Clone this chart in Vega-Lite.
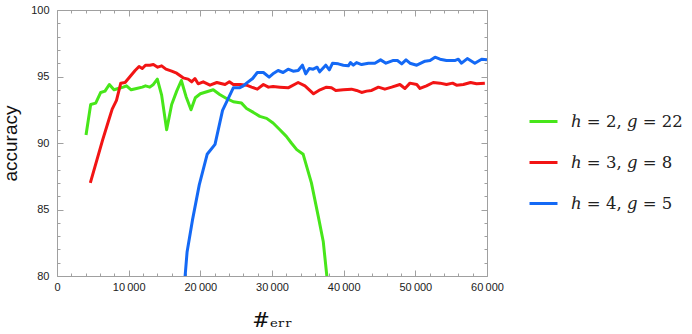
{
  "$schema": "https://vega.github.io/schema/vega-lite/v6.json",
  "width": 430,
  "height": 266,
  "autosize": {"type": "none"},
  "padding": {"left": 57, "top": 10, "right": 205, "bottom": 58},
  "background": "white",
  "config": {
    "view": {"stroke": "#a0a0a0", "strokeWidth": 1},
    "axis": {"grid": false, "domain": false, "tickColor": "#a0a0a0", "tickWidth": 1, "labelFont": "Liberation Sans", "labelFontSize": 11, "labelColor": "#222222", "labelOverlap": false, "labelFlush": false}
  },
  "data": {"values": [
    {"series": "ℎ = 2, 𝑔 = 22", "err": 4050, "accuracy": 90.6},
    {"series": "ℎ = 2, 𝑔 = 22", "err": 4700, "accuracy": 92.9},
    {"series": "ℎ = 2, 𝑔 = 22", "err": 5400, "accuracy": 93.0},
    {"series": "ℎ = 2, 𝑔 = 22", "err": 6100, "accuracy": 93.8},
    {"series": "ℎ = 2, 𝑔 = 22", "err": 6700, "accuracy": 93.9},
    {"series": "ℎ = 2, 𝑔 = 22", "err": 7300, "accuracy": 94.4},
    {"series": "ℎ = 2, 𝑔 = 22", "err": 7950, "accuracy": 94.0},
    {"series": "ℎ = 2, 𝑔 = 22", "err": 8550, "accuracy": 94.1},
    {"series": "ℎ = 2, 𝑔 = 22", "err": 9250, "accuracy": 94.2},
    {"series": "ℎ = 2, 𝑔 = 22", "err": 9700, "accuracy": 94.3},
    {"series": "ℎ = 2, 𝑔 = 22", "err": 10350, "accuracy": 94.0},
    {"series": "ℎ = 2, 𝑔 = 22", "err": 11100, "accuracy": 94.1},
    {"series": "ℎ = 2, 𝑔 = 22", "err": 11900, "accuracy": 94.2},
    {"series": "ℎ = 2, 𝑔 = 22", "err": 12350, "accuracy": 94.3},
    {"series": "ℎ = 2, 𝑔 = 22", "err": 12950, "accuracy": 94.2},
    {"series": "ℎ = 2, 𝑔 = 22", "err": 13450, "accuracy": 94.4},
    {"series": "ℎ = 2, 𝑔 = 22", "err": 14000, "accuracy": 94.8},
    {"series": "ℎ = 2, 𝑔 = 22", "err": 14600, "accuracy": 93.6},
    {"series": "ℎ = 2, 𝑔 = 22", "err": 15300, "accuracy": 91.0},
    {"series": "ℎ = 2, 𝑔 = 22", "err": 16000, "accuracy": 92.9},
    {"series": "ℎ = 2, 𝑔 = 22", "err": 16700, "accuracy": 93.9},
    {"series": "ℎ = 2, 𝑔 = 22", "err": 17350, "accuracy": 94.7},
    {"series": "ℎ = 2, 𝑔 = 22", "err": 18000, "accuracy": 93.5},
    {"series": "ℎ = 2, 𝑔 = 22", "err": 18700, "accuracy": 92.5},
    {"series": "ℎ = 2, 𝑔 = 22", "err": 19300, "accuracy": 93.4},
    {"series": "ℎ = 2, 𝑔 = 22", "err": 20000, "accuracy": 93.7},
    {"series": "ℎ = 2, 𝑔 = 22", "err": 20900, "accuracy": 93.85},
    {"series": "ℎ = 2, 𝑔 = 22", "err": 21800, "accuracy": 94.0},
    {"series": "ℎ = 2, 𝑔 = 22", "err": 22700, "accuracy": 93.65},
    {"series": "ℎ = 2, 𝑔 = 22", "err": 23650, "accuracy": 93.35},
    {"series": "ℎ = 2, 𝑔 = 22", "err": 24600, "accuracy": 93.1},
    {"series": "ℎ = 2, 𝑔 = 22", "err": 25750, "accuracy": 93.0},
    {"series": "ℎ = 2, 𝑔 = 22", "err": 26450, "accuracy": 92.6},
    {"series": "ℎ = 2, 𝑔 = 22", "err": 27400, "accuracy": 92.3},
    {"series": "ℎ = 2, 𝑔 = 22", "err": 28300, "accuracy": 92.0},
    {"series": "ℎ = 2, 𝑔 = 22", "err": 29250, "accuracy": 91.85},
    {"series": "ℎ = 2, 𝑔 = 22", "err": 30150, "accuracy": 91.5},
    {"series": "ℎ = 2, 𝑔 = 22", "err": 31100, "accuracy": 91.0},
    {"series": "ℎ = 2, 𝑔 = 22", "err": 32000, "accuracy": 90.5},
    {"series": "ℎ = 2, 𝑔 = 22", "err": 32700, "accuracy": 90.0},
    {"series": "ℎ = 2, 𝑔 = 22", "err": 33450, "accuracy": 89.5},
    {"series": "ℎ = 2, 𝑔 = 22", "err": 34350, "accuracy": 89.15},
    {"series": "ℎ = 2, 𝑔 = 22", "err": 35500, "accuracy": 87.0},
    {"series": "ℎ = 2, 𝑔 = 22", "err": 36450, "accuracy": 84.5},
    {"series": "ℎ = 2, 𝑔 = 22", "err": 37150, "accuracy": 82.6},
    {"series": "ℎ = 2, 𝑔 = 22", "err": 37650, "accuracy": 80.0},
    {"series": "ℎ = 2, 𝑔 = 22", "err": 37900, "accuracy": 78.5},
    {"series": "ℎ = 3, 𝑔 = 8", "err": 4650, "accuracy": 87.0},
    {"series": "ℎ = 3, 𝑔 = 8", "err": 6350, "accuracy": 90.2},
    {"series": "ℎ = 3, 𝑔 = 8", "err": 7150, "accuracy": 91.6},
    {"series": "ℎ = 3, 𝑔 = 8", "err": 7700, "accuracy": 92.55},
    {"series": "ℎ = 3, 𝑔 = 8", "err": 8300, "accuracy": 93.2},
    {"series": "ℎ = 3, 𝑔 = 8", "err": 8900, "accuracy": 94.5},
    {"series": "ℎ = 3, 𝑔 = 8", "err": 9500, "accuracy": 94.55},
    {"series": "ℎ = 3, 𝑔 = 8", "err": 10200, "accuracy": 95.0},
    {"series": "ℎ = 3, 𝑔 = 8", "err": 10900, "accuracy": 95.45},
    {"series": "ℎ = 3, 𝑔 = 8", "err": 11450, "accuracy": 95.75},
    {"series": "ℎ = 3, 𝑔 = 8", "err": 11900, "accuracy": 95.6},
    {"series": "ℎ = 3, 𝑔 = 8", "err": 12350, "accuracy": 95.85},
    {"series": "ℎ = 3, 𝑔 = 8", "err": 12950, "accuracy": 95.85},
    {"series": "ℎ = 3, 𝑔 = 8", "err": 13450, "accuracy": 95.9},
    {"series": "ℎ = 3, 𝑔 = 8", "err": 14050, "accuracy": 95.7},
    {"series": "ℎ = 3, 𝑔 = 8", "err": 14600, "accuracy": 95.8},
    {"series": "ℎ = 3, 𝑔 = 8", "err": 15200, "accuracy": 95.55},
    {"series": "ℎ = 3, 𝑔 = 8", "err": 16000, "accuracy": 95.4},
    {"series": "ℎ = 3, 𝑔 = 8", "err": 16700, "accuracy": 95.25},
    {"series": "ℎ = 3, 𝑔 = 8", "err": 17600, "accuracy": 94.9},
    {"series": "ℎ = 3, 𝑔 = 8", "err": 18300, "accuracy": 94.8},
    {"series": "ℎ = 3, 𝑔 = 8", "err": 18800, "accuracy": 94.6},
    {"series": "ℎ = 3, 𝑔 = 8", "err": 19250, "accuracy": 94.85},
    {"series": "ℎ = 3, 𝑔 = 8", "err": 19700, "accuracy": 94.45},
    {"series": "ℎ = 3, 𝑔 = 8", "err": 20400, "accuracy": 94.6},
    {"series": "ℎ = 3, 𝑔 = 8", "err": 21350, "accuracy": 94.35},
    {"series": "ℎ = 3, 𝑔 = 8", "err": 22300, "accuracy": 94.55},
    {"series": "ℎ = 3, 𝑔 = 8", "err": 23450, "accuracy": 94.4},
    {"series": "ℎ = 3, 𝑔 = 8", "err": 24050, "accuracy": 94.6},
    {"series": "ℎ = 3, 𝑔 = 8", "err": 24600, "accuracy": 94.4},
    {"series": "ℎ = 3, 𝑔 = 8", "err": 25550, "accuracy": 94.4},
    {"series": "ℎ = 3, 𝑔 = 8", "err": 26450, "accuracy": 94.35},
    {"series": "ℎ = 3, 𝑔 = 8", "err": 27150, "accuracy": 94.2},
    {"series": "ℎ = 3, 𝑔 = 8", "err": 27950, "accuracy": 94.05},
    {"series": "ℎ = 3, 𝑔 = 8", "err": 28800, "accuracy": 94.4},
    {"series": "ℎ = 3, 𝑔 = 8", "err": 29500, "accuracy": 94.2},
    {"series": "ℎ = 3, 𝑔 = 8", "err": 30150, "accuracy": 94.25},
    {"series": "ℎ = 3, 𝑔 = 8", "err": 31100, "accuracy": 94.2},
    {"series": "ℎ = 3, 𝑔 = 8", "err": 32250, "accuracy": 94.15},
    {"series": "ℎ = 3, 𝑔 = 8", "err": 33650, "accuracy": 94.55},
    {"series": "ℎ = 3, 𝑔 = 8", "err": 34600, "accuracy": 94.3},
    {"series": "ℎ = 3, 𝑔 = 8", "err": 35800, "accuracy": 93.7},
    {"series": "ℎ = 3, 𝑔 = 8", "err": 36700, "accuracy": 94.0},
    {"series": "ℎ = 3, 𝑔 = 8", "err": 37600, "accuracy": 94.2},
    {"series": "ℎ = 3, 𝑔 = 8", "err": 38300, "accuracy": 94.15},
    {"series": "ℎ = 3, 𝑔 = 8", "err": 38900, "accuracy": 93.95},
    {"series": "ℎ = 3, 𝑔 = 8", "err": 39950, "accuracy": 94.0},
    {"series": "ℎ = 3, 𝑔 = 8", "err": 41100, "accuracy": 94.05},
    {"series": "ℎ = 3, 𝑔 = 8", "err": 41800, "accuracy": 93.95},
    {"series": "ℎ = 3, 𝑔 = 8", "err": 42500, "accuracy": 93.8},
    {"series": "ℎ = 3, 𝑔 = 8", "err": 43200, "accuracy": 93.9},
    {"series": "ℎ = 3, 𝑔 = 8", "err": 43900, "accuracy": 93.95},
    {"series": "ℎ = 3, 𝑔 = 8", "err": 44850, "accuracy": 94.2},
    {"series": "ℎ = 3, 𝑔 = 8", "err": 45750, "accuracy": 94.05},
    {"series": "ℎ = 3, 𝑔 = 8", "err": 46700, "accuracy": 94.2},
    {"series": "ℎ = 3, 𝑔 = 8", "err": 47850, "accuracy": 94.4},
    {"series": "ℎ = 3, 𝑔 = 8", "err": 48550, "accuracy": 94.1},
    {"series": "ℎ = 3, 𝑔 = 8", "err": 49250, "accuracy": 94.5},
    {"series": "ℎ = 3, 𝑔 = 8", "err": 50200, "accuracy": 94.4},
    {"series": "ℎ = 3, 𝑔 = 8", "err": 50650, "accuracy": 94.1},
    {"series": "ℎ = 3, 𝑔 = 8", "err": 51550, "accuracy": 94.3},
    {"series": "ℎ = 3, 𝑔 = 8", "err": 52500, "accuracy": 94.55},
    {"series": "ℎ = 3, 𝑔 = 8", "err": 53450, "accuracy": 94.5},
    {"series": "ℎ = 3, 𝑔 = 8", "err": 54350, "accuracy": 94.4},
    {"series": "ℎ = 3, 𝑔 = 8", "err": 55200, "accuracy": 94.5},
    {"series": "ℎ = 3, 𝑔 = 8", "err": 55750, "accuracy": 94.35},
    {"series": "ℎ = 3, 𝑔 = 8", "err": 56700, "accuracy": 94.4},
    {"series": "ℎ = 3, 𝑔 = 8", "err": 57700, "accuracy": 94.55},
    {"series": "ℎ = 3, 𝑔 = 8", "err": 58550, "accuracy": 94.45},
    {"series": "ℎ = 3, 𝑔 = 8", "err": 59700, "accuracy": 94.5},
    {"series": "ℎ = 4, 𝑔 = 5", "err": 17800, "accuracy": 79.5},
    {"series": "ℎ = 4, 𝑔 = 5", "err": 18150, "accuracy": 81.8},
    {"series": "ℎ = 4, 𝑔 = 5", "err": 18900, "accuracy": 84.2},
    {"series": "ℎ = 4, 𝑔 = 5", "err": 19850, "accuracy": 86.85},
    {"series": "ℎ = 4, 𝑔 = 5", "err": 20950, "accuracy": 89.15},
    {"series": "ℎ = 4, 𝑔 = 5", "err": 22050, "accuracy": 89.9},
    {"series": "ℎ = 4, 𝑔 = 5", "err": 23100, "accuracy": 92.45},
    {"series": "ℎ = 4, 𝑔 = 5", "err": 23900, "accuracy": 93.35},
    {"series": "ℎ = 4, 𝑔 = 5", "err": 24600, "accuracy": 94.15},
    {"series": "ℎ = 4, 𝑔 = 5", "err": 25450, "accuracy": 94.15},
    {"series": "ℎ = 4, 𝑔 = 5", "err": 26000, "accuracy": 94.3},
    {"series": "ℎ = 4, 𝑔 = 5", "err": 26450, "accuracy": 94.5},
    {"series": "ℎ = 4, 𝑔 = 5", "err": 27300, "accuracy": 94.85},
    {"series": "ℎ = 4, 𝑔 = 5", "err": 27950, "accuracy": 95.3},
    {"series": "ℎ = 4, 𝑔 = 5", "err": 28800, "accuracy": 95.3},
    {"series": "ℎ = 4, 𝑔 = 5", "err": 29600, "accuracy": 94.95},
    {"series": "ℎ = 4, 𝑔 = 5", "err": 30250, "accuracy": 95.25},
    {"series": "ℎ = 4, 𝑔 = 5", "err": 30850, "accuracy": 95.45},
    {"series": "ℎ = 4, 𝑔 = 5", "err": 31550, "accuracy": 95.3},
    {"series": "ℎ = 4, 𝑔 = 5", "err": 32250, "accuracy": 95.55},
    {"series": "ℎ = 4, 𝑔 = 5", "err": 32950, "accuracy": 95.4},
    {"series": "ℎ = 4, 𝑔 = 5", "err": 33650, "accuracy": 95.45},
    {"series": "ℎ = 4, 𝑔 = 5", "err": 34250, "accuracy": 95.85},
    {"series": "ℎ = 4, 𝑔 = 5", "err": 34700, "accuracy": 95.2},
    {"series": "ℎ = 4, 𝑔 = 5", "err": 35200, "accuracy": 95.6},
    {"series": "ℎ = 4, 𝑔 = 5", "err": 35750, "accuracy": 95.55},
    {"series": "ℎ = 4, 𝑔 = 5", "err": 36300, "accuracy": 95.7},
    {"series": "ℎ = 4, 𝑔 = 5", "err": 36650, "accuracy": 95.35},
    {"series": "ℎ = 4, 𝑔 = 5", "err": 37500, "accuracy": 95.85},
    {"series": "ℎ = 4, 𝑔 = 5", "err": 38000, "accuracy": 95.5},
    {"series": "ℎ = 4, 𝑔 = 5", "err": 38450, "accuracy": 96.0},
    {"series": "ℎ = 4, 𝑔 = 5", "err": 39250, "accuracy": 95.95},
    {"series": "ℎ = 4, 𝑔 = 5", "err": 39950, "accuracy": 95.85},
    {"series": "ℎ = 4, 𝑔 = 5", "err": 40650, "accuracy": 95.8},
    {"series": "ℎ = 4, 𝑔 = 5", "err": 40950, "accuracy": 96.05},
    {"series": "ℎ = 4, 𝑔 = 5", "err": 41350, "accuracy": 95.85},
    {"series": "ℎ = 4, 𝑔 = 5", "err": 41800, "accuracy": 96.05},
    {"series": "ℎ = 4, 𝑔 = 5", "err": 42500, "accuracy": 95.9},
    {"series": "ℎ = 4, 𝑔 = 5", "err": 43450, "accuracy": 96.0},
    {"series": "ℎ = 4, 𝑔 = 5", "err": 44350, "accuracy": 96.0},
    {"series": "ℎ = 4, 𝑔 = 5", "err": 45150, "accuracy": 96.25},
    {"series": "ℎ = 4, 𝑔 = 5", "err": 45900, "accuracy": 96.0},
    {"series": "ℎ = 4, 𝑔 = 5", "err": 46850, "accuracy": 96.2},
    {"series": "ℎ = 4, 𝑔 = 5", "err": 47500, "accuracy": 96.2},
    {"series": "ℎ = 4, 𝑔 = 5", "err": 48100, "accuracy": 95.95},
    {"series": "ℎ = 4, 𝑔 = 5", "err": 48700, "accuracy": 96.25},
    {"series": "ℎ = 4, 𝑔 = 5", "err": 49250, "accuracy": 96.0},
    {"series": "ℎ = 4, 𝑔 = 5", "err": 50200, "accuracy": 95.85},
    {"series": "ℎ = 4, 𝑔 = 5", "err": 51350, "accuracy": 96.15},
    {"series": "ℎ = 4, 𝑔 = 5", "err": 52050, "accuracy": 96.2},
    {"series": "ℎ = 4, 𝑔 = 5", "err": 52750, "accuracy": 96.45},
    {"series": "ℎ = 4, 𝑔 = 5", "err": 53450, "accuracy": 96.3},
    {"series": "ℎ = 4, 𝑔 = 5", "err": 54350, "accuracy": 96.2},
    {"series": "ℎ = 4, 𝑔 = 5", "err": 55500, "accuracy": 96.2},
    {"series": "ℎ = 4, 𝑔 = 5", "err": 56000, "accuracy": 96.3},
    {"series": "ℎ = 4, 𝑔 = 5", "err": 56450, "accuracy": 96.0},
    {"series": "ℎ = 4, 𝑔 = 5", "err": 57250, "accuracy": 96.35},
    {"series": "ℎ = 4, 𝑔 = 5", "err": 58300, "accuracy": 96.0},
    {"series": "ℎ = 4, 𝑔 = 5", "err": 59250, "accuracy": 96.3},
    {"series": "ℎ = 4, 𝑔 = 5", "err": 60000, "accuracy": 96.25}
  ]},
  "resolve": {"axis": {"x": "independent", "y": "independent"}},
  "layer": [
    {
      "mark": {"type": "line", "strokeWidth": 3, "clip": true, "strokeJoin": "round"},
      "encoding": {
        "x": {"field": "err", "type": "quantitative", "scale": {"domain": [0, 60000], "nice": false, "zero": false},
          "axis": {"orient": "bottom", "values": [0, 10000, 20000, 30000, 40000, 50000, 60000], "ticks": false, "labelPadding": 5,
            "labelExpr": "replace(format(datum.value, ','), ',', '\u2009')",
            "title": "#ₑᵣᵣ", "titleFont": "DejaVu Serif", "titleFontSize": 21, "titleFontWeight": "normal", "titleColor": "#111111",
            "titleX": 215, "titleY": 44, "titleBaseline": "middle", "titleAlign": "center"}},
        "y": {"field": "accuracy", "type": "quantitative", "scale": {"domain": [80, 100], "nice": false, "zero": false},
          "axis": {"orient": "left", "values": [80, 85, 90, 95, 100], "ticks": false, "labelPadding": 8, "labelBaseline": "middle",
            "title": "accuracy", "titleFont": "Liberation Sans", "titleFontSize": 19, "titleFontWeight": "normal", "titleColor": "#111111",
            "titleAngle": -90, "titleX": -40.5, "titleY": 133, "titleBaseline": "alphabetic", "titleAlign": "center"}},
        "color": {"field": "series", "type": "nominal",
          "scale": {"domain": ["ℎ = 2, 𝑔 = 22", "ℎ = 3, 𝑔 = 8", "ℎ = 4, 𝑔 = 5"], "range": ["#47e61a", "#f21414", "#1469f5"]},
          "legend": {"orient": "none", "legendX": 471, "legendY": 96, "title": null, "symbolType": "stroke", "symbolSize": 784,
            "symbolStrokeWidth": 3, "labelFont": "DejaVu Serif", "labelFontSize": 16.5, "labelOffset": 12, "rowPadding": 17, "labelColor": "#222222", "padding": 0, "labelLimit": 200}}
      }
    },
    {
      "mark": {"type": "line", "opacity": 0},
      "encoding": {
        "detail": {"field": "series"},
        "x": {"field": "err", "type": "quantitative", "axis": {"orient": "bottom", "values": [0, 10000, 20000, 30000, 40000, 50000, 60000], "labels": false, "tickSize": -6, "title": null}},
        "y": {"field": "accuracy", "type": "quantitative", "axis": {"orient": "left", "values": [80, 85, 90, 95, 100], "labels": false, "tickSize": -6, "title": null}}
      }
    },
    {
      "mark": {"type": "line", "opacity": 0},
      "encoding": {
        "detail": {"field": "series"},
        "x": {"field": "err", "type": "quantitative", "axis": {"orient": "bottom", "values": [2000, 4000, 6000, 8000, 12000, 14000, 16000, 18000, 22000, 24000, 26000, 28000, 32000, 34000, 36000, 38000, 42000, 44000, 46000, 48000, 52000, 54000, 56000, 58000], "labels": false, "tickSize": -3, "title": null}},
        "y": {"field": "accuracy", "type": "quantitative", "axis": {"orient": "left", "values": [81, 82, 83, 84, 86, 87, 88, 89, 91, 92, 93, 94, 96, 97, 98, 99], "labels": false, "tickSize": -3, "title": null}}
      }
    },
    {
      "mark": {"type": "line", "opacity": 0},
      "encoding": {
        "detail": {"field": "series"},
        "x": {"field": "err", "type": "quantitative", "axis": {"orient": "top", "values": [0, 10000, 20000, 30000, 40000, 50000, 60000], "labels": false, "tickSize": -6, "title": null}},
        "y": {"field": "accuracy", "type": "quantitative", "axis": {"orient": "right", "values": [80, 85, 90, 95, 100], "labels": false, "tickSize": -6, "title": null}}
      }
    },
    {
      "mark": {"type": "line", "opacity": 0},
      "encoding": {
        "detail": {"field": "series"},
        "x": {"field": "err", "type": "quantitative", "axis": {"orient": "top", "values": [2000, 4000, 6000, 8000, 12000, 14000, 16000, 18000, 22000, 24000, 26000, 28000, 32000, 34000, 36000, 38000, 42000, 44000, 46000, 48000, 52000, 54000, 56000, 58000], "labels": false, "tickSize": -3, "title": null}},
        "y": {"field": "accuracy", "type": "quantitative", "axis": {"orient": "right", "values": [81, 82, 83, 84, 86, 87, 88, 89, 91, 92, 93, 94, 96, 97, 98, 99], "labels": false, "tickSize": -3, "title": null}}
      }
    }
  ]
}
